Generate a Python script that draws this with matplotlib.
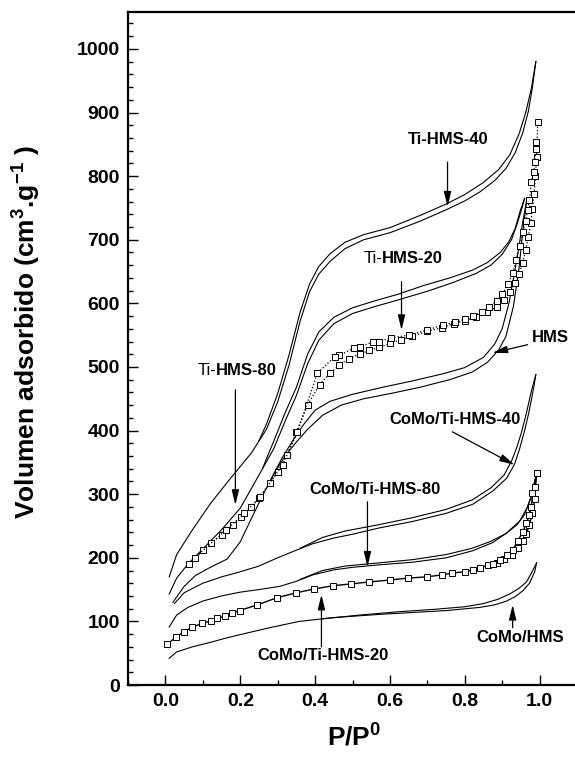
import matplotlib
matplotlib.use("Agg")
import matplotlib.pyplot as plt

plt.rcParams['font.family'] = ['Liberation Sans', 'DejaVu Sans']
plt.rcParams['mathtext.fontset'] = 'custom'
plt.rcParams['mathtext.rm'] = 'Liberation Sans:bold'
plt.rcParams['mathtext.bf'] = 'Liberation Sans:bold'
plt.rcParams['mathtext.default'] = 'bf'

# ---------------- data (P/P0, volume) ----------------
ti40_ads_p = [0.01, 0.03, 0.07, 0.12, 0.17, 0.23, 0.27, 0.30, 0.33, 0.36, 0.385, 0.41, 0.44, 0.48, 0.53, 0.60, 0.68, 0.75, 0.80, 0.84, 0.88, 0.91, 0.935, 0.955, 0.97, 0.981, 0.99]
ti40_ads_v = [170, 205, 242, 285, 322, 365, 402, 445, 502, 572, 618, 646, 666, 686, 700, 711, 729, 747, 761, 775, 793, 812, 837, 868, 902, 940, 980]
ti40_des_p = [0.99, 0.978, 0.963, 0.945, 0.92, 0.89, 0.85, 0.80, 0.75, 0.68, 0.60, 0.53, 0.48, 0.44, 0.41, 0.385, 0.36, 0.33, 0.30, 0.27, 0.25]
ti40_des_v = [980, 938, 900, 866, 833, 810, 790, 771, 756, 738, 719, 708, 696, 678, 658, 630, 586, 518, 458, 410, 384]

ti20_ads_p = [0.01, 0.03, 0.06, 0.10, 0.15, 0.20, 0.25, 0.29, 0.32, 0.35, 0.38, 0.41, 0.45, 0.50, 0.56, 0.62, 0.70, 0.77, 0.83, 0.87, 0.90, 0.925, 0.94, 0.952, 0.96]
ti20_ads_v = [143, 168, 190, 214, 244, 278, 330, 372, 415, 455, 505, 542, 568, 584, 595, 605, 619, 633, 647, 660, 677, 700, 725, 748, 765]
ti20_des_p = [0.96, 0.948, 0.935, 0.918, 0.895, 0.86, 0.82, 0.76, 0.69, 0.62, 0.56, 0.50, 0.45, 0.41, 0.38, 0.35, 0.32, 0.29, 0.26]
ti20_des_v = [765, 745, 718, 697, 680, 664, 652, 640, 628, 614, 604, 593, 578, 555, 520, 468, 428, 384, 341]

ti80_ads_p = [0.064, 0.10, 0.123, 0.15, 0.18, 0.203, 0.23, 0.251, 0.28, 0.30, 0.325, 0.35, 0.38, 0.412, 0.44, 0.465, 0.49, 0.519, 0.545, 0.572, 0.60, 0.63, 0.66, 0.70, 0.74, 0.77, 0.80, 0.83, 0.86, 0.885, 0.905, 0.92, 0.935, 0.945, 0.955, 0.963, 0.97, 0.976, 0.981, 0.985, 0.989, 0.992, 0.995]
ti80_ads_v = [190, 212, 223, 236, 252, 264, 280, 294, 318, 335, 362, 398, 440, 472, 490, 503, 513, 520, 526, 531, 537, 543, 548, 556, 562, 568, 573, 579, 586, 594, 606, 618, 632, 646, 664, 684, 705, 726, 748, 772, 800, 830, 885]
ti80_des_p = [0.99, 0.99, 0.987, 0.985, 0.978, 0.973, 0.968, 0.963, 0.955, 0.947, 0.938, 0.928, 0.915, 0.90, 0.885, 0.866, 0.845, 0.821, 0.80, 0.773, 0.741, 0.70, 0.652, 0.604, 0.572, 0.554, 0.519, 0.505, 0.465, 0.452, 0.406, 0.353, 0.313, 0.253, 0.211, 0.163, 0.078]
ti80_des_v = [854, 843, 822, 807, 791, 763, 747, 730, 712, 690, 668, 648, 630, 614, 604, 594, 586, 580, 575, 570, 566, 558, 550, 546, 540, 539, 532, 530, 518, 516, 490, 398, 346, 296, 270, 244, 200]

hms_ads_p = [0.02, 0.05, 0.08, 0.12, 0.165, 0.20, 0.23, 0.26, 0.29, 0.32, 0.35, 0.38, 0.42, 0.47, 0.53, 0.60, 0.68, 0.76, 0.82, 0.86, 0.89, 0.91, 0.93, 0.945, 0.955, 0.965]
hms_ads_v = [130, 155, 172, 185, 198, 225, 262, 298, 332, 360, 382, 402, 424, 440, 450, 458, 468, 480, 492, 507, 526, 548, 595, 655, 712, 760]
hms_des_p = [0.965, 0.955, 0.945, 0.932, 0.918, 0.90, 0.88, 0.85, 0.80, 0.74, 0.66, 0.58, 0.50, 0.44, 0.40, 0.37, 0.34, 0.31, 0.28]
hms_des_v = [760, 728, 690, 645, 600, 560, 536, 515, 499, 489, 478, 468, 457, 446, 432, 410, 384, 355, 321]

cm40_ads_p = [0.024, 0.05, 0.10, 0.15, 0.20, 0.25, 0.30, 0.35, 0.393, 0.45, 0.50, 0.572, 0.66, 0.751, 0.821, 0.875, 0.912, 0.933, 0.947, 0.96, 0.97, 0.978, 0.985, 0.99]
cm40_ads_v = [128, 145, 160, 170, 178, 187, 200, 212, 222, 231, 237, 247, 257, 270, 284, 305, 325, 347, 372, 400, 425, 448, 470, 488]
cm40_des_p = [0.99, 0.978, 0.965, 0.952, 0.94, 0.925, 0.905, 0.87, 0.82, 0.75, 0.66, 0.57, 0.48, 0.42, 0.36]
cm40_des_v = [488, 462, 428, 398, 375, 352, 330, 310, 291, 276, 263, 252, 242, 232, 215]

cm80_ads_p = [0.01, 0.03, 0.06, 0.10, 0.15, 0.20, 0.25, 0.305, 0.35, 0.393, 0.45, 0.50, 0.572, 0.66, 0.751, 0.821, 0.875, 0.912, 0.947, 0.968, 0.981, 0.99]
cm80_ads_v = [91, 110, 122, 132, 140, 146, 150, 155, 163, 173, 181, 185, 189, 193, 200, 211, 224, 239, 258, 280, 302, 328]
cm80_des_p = [0.99, 0.975, 0.96, 0.94, 0.91, 0.87, 0.82, 0.75, 0.66, 0.57, 0.48, 0.42, 0.36]
cm80_des_v = [328, 292, 268, 252, 238, 226, 215, 205, 197, 192, 187, 180, 166]

cm20_ads_p = [0.005, 0.029, 0.051, 0.072, 0.099, 0.123, 0.139, 0.16, 0.179, 0.198, 0.246, 0.297, 0.35, 0.398, 0.447, 0.497, 0.545, 0.599, 0.647, 0.698, 0.738, 0.767, 0.80, 0.821, 0.84, 0.861, 0.885, 0.906, 0.925, 0.941, 0.955, 0.965, 0.973, 0.981, 0.987, 0.992]
cm20_ads_v = [64, 76, 84, 91, 97, 101, 105, 108, 113, 117, 126, 137, 145, 151, 156, 159, 162, 165, 168, 170, 173, 176, 178, 181, 184, 188, 192, 198, 205, 215, 226, 238, 252, 270, 292, 333]
cm20_des_p = [0.992, 0.987, 0.981, 0.978, 0.973, 0.965, 0.955, 0.941, 0.928, 0.912, 0.893, 0.875]
cm20_des_v = [333, 311, 302, 280, 267, 255, 240, 226, 212, 204, 196, 190]

cmh_ads_p = [0.01, 0.03, 0.072, 0.12, 0.163, 0.22, 0.278, 0.358, 0.45, 0.572, 0.66, 0.751, 0.84, 0.88, 0.912, 0.935, 0.955, 0.973, 0.987, 0.992]
cmh_ads_v = [42, 52, 60, 67, 74, 82, 90, 100, 106, 111, 114, 117, 122, 126, 132, 139, 148, 160, 178, 192]
cmh_des_p = [0.992, 0.98, 0.965, 0.945, 0.92, 0.89, 0.85, 0.80, 0.72, 0.62, 0.52, 0.42]
cmh_des_v = [192, 178, 162, 152, 143, 135, 128, 123, 119, 115, 110, 104]

x_ticks = [0.0, 0.2, 0.4, 0.6, 0.8, 1.0]
y_ticks = [0, 100, 200, 300, 400, 500, 600, 700, 800, 900, 1000]

# ---------------- figure ----------------
fig = plt.figure(figsize=(5.75, 7.57), dpi=100)
ax = fig.add_axes([128/575, 72/757, (577-128)/575, (685-12)/757])

lw = 0.8
for p, v in [(ti40_ads_p, ti40_ads_v), (ti40_des_p, ti40_des_v),
             (ti20_ads_p, ti20_ads_v), (ti20_des_p, ti20_des_v),
             (hms_ads_p, hms_ads_v), (hms_des_p, hms_des_v),
             (cm40_ads_p, cm40_ads_v), (cm40_des_p, cm40_des_v),
             (cm80_ads_p, cm80_ads_v), (cm80_des_p, cm80_des_v),
             (cmh_ads_p, cmh_ads_v), (cmh_des_p, cmh_des_v)]:
    ax.plot(p, v, color='black', lw=lw)

sq = dict(marker='s', markersize=5, markerfacecolor='white', markeredgecolor='black', markeredgewidth=0.7, color='black')
ax.plot(ti80_ads_p, ti80_ads_v, linestyle=':', lw=0.9, **sq)
ax.plot(ti80_des_p, ti80_des_v, linestyle=':', lw=0.9, **sq)
ax.plot(cm20_ads_p, cm20_ads_v, linestyle='-', lw=1.0, **sq)
ax.plot(cm20_des_p, cm20_des_v, linestyle='-', lw=1.0, **sq)

ax.set_xlim(-0.1, 1.1)
ax.set_ylim(0, 1058)
ax.set_xticks(x_ticks)
ax.set_xticklabels([f"{t:.1f}" for t in x_ticks])
ax.set_yticks(y_ticks)
ax.set_xticks([i/10 for i in range(-1, 12)], minor=True)
ax.set_yticks(list(range(0, 1060, 20)), minor=True)
ax.tick_params(which='major', direction='in', length=7, width=1.0, labelsize=14, pad=6)
ax.tick_params(which='minor', direction='in', length=3.6, width=1.0)
for lab in ax.get_xticklabels() + ax.get_yticklabels():
    lab.set_fontweight('bold')
for s in ax.spines.values():
    s.set_linewidth(1.6)

ax.set_xlabel(r"P/P$^0$", fontsize=19, fontweight='bold')
ax.xaxis.set_label_coords(0.503, -0.058)
ax.set_ylabel(r"Volumen adsorbido (cm$^3$.g$^{-1}$ )", fontsize=19, fontweight='bold', va='center')
ax.yaxis.set_label_coords(-0.225, 0.524)

fs = 12
def arrow(start, tip):
    ax.annotate('', xy=tip, xytext=start,
                arrowprops=dict(arrowstyle='-|>,head_length=0.9,head_width=0.22', color='black',
                                lw=0.9, shrinkA=0, shrinkB=0))

ax.text(0.757, 857, "Ti-HMS-40", fontsize=fs, fontweight='bold', ha='center', va='center')
arrow((0.754, 822), (0.754, 752))

ax.text(0.579, 671, "Ti-", fontsize=fs, ha='right', va='center')
ax.text(0.579, 671, "HMS-20", fontsize=fs, fontweight='bold', ha='left', va='center')
arrow((0.631, 634), (0.631, 558))

ax.text(0.135, 495, "Ti-", fontsize=fs, ha='right', va='center')
ax.text(0.135, 495, "HMS-80", fontsize=fs, fontweight='bold', ha='left', va='center')
arrow((0.187, 464), (0.187, 283))

ax.text(0.979, 546, "HMS", fontsize=fs, fontweight='bold', ha='left', va='center')
arrow((0.968, 535), (0.874, 522))

ax.text(0.775, 417, "CoMo/Ti-HMS-40", fontsize=fs, fontweight='bold', ha='center', va='center')
arrow((0.767, 398), (0.933, 346))

ax.text(0.561, 307, "CoMo/Ti-HMS-80", fontsize=fs, fontweight='bold', ha='center', va='center')
arrow((0.54, 288), (0.54, 186))

ax.text(0.422, 47, "CoMo/Ti-HMS-20", fontsize=fs, fontweight='bold', ha='center', va='center')
arrow((0.417, 60), (0.417, 142))

ax.text(0.947, 75, "CoMo/HMS", fontsize=fs, fontweight='bold', ha='center', va='center')
arrow((0.928, 90), (0.928, 126))

fig.savefig("out.png", dpi=100)
